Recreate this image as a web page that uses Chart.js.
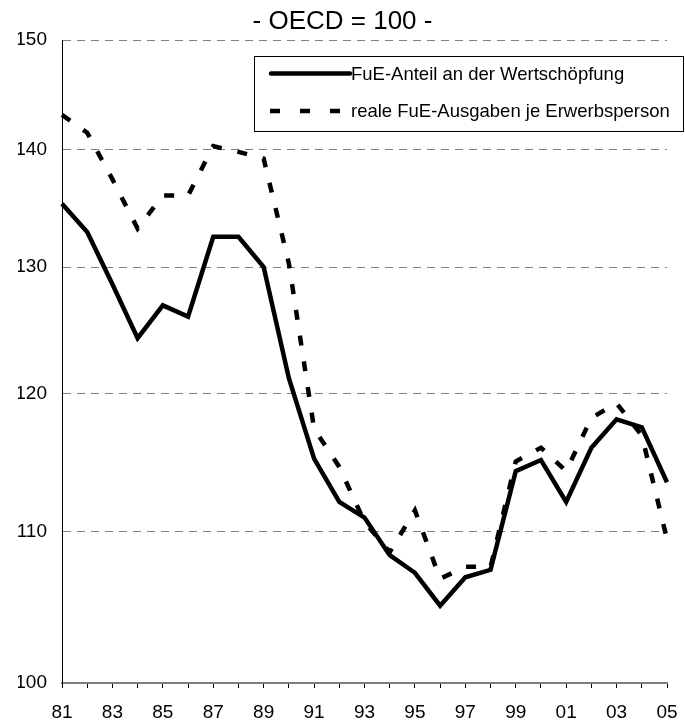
<!DOCTYPE html>
<html>
<head>
<meta charset="utf-8">
<script src="https://cdn.jsdelivr.net/npm/chart.js@4.4.1/dist/chart.umd.min.js"></script>
<style>
    body { margin: 0; background: #fff; }
    canvas { display: block; }
</style>
</head>
<body>
<canvas id="grafico-oecd" width="685" height="725"></canvas>
<script>
// Dados do gráfico
let anos = ["81", "82", "83", "84", "85", "86", "87", "88", "89", "90", "91", "92", "93",
    "94", "95", "96", "97", "98", "99", "00", "01", "02", "03", "04", "05"
];
let fueAnteil = [135.3, 132.9, 128.6, 124.3, 126.9, 126.0, 132.5, 132.5, 130.0, 121.2, 115.2, 112.1, 111.0,
    108.4, 107.2, 105.0, 106.9, 107.4, 114.3, 115.1, 112.1, 116.0, 118.1, 117.5, 113.5
];
let fueAusgaben = [143.1, 141.5, 137.4, 133.2, 136.0, 136.0, 140.3, 139.8, 139.2, 130.3, 117.4, 114.6, 110.7,
    108.6, 111.5, 106.8, 107.6, 107.6, 115.0, 116.0, 114.3, 118.2, 119.3, 116.9, 109.5
];
let ticksY = [100, 110, 120, 130, 140, 150];

Chart.defaults.font.family = '"Liberation Sans", Arial, sans-serif';
Chart.defaults.color = "#000";

// Legenda com caixa dentro da área do gráfico
const legendaBox = {
    id: "legendaBox",
    afterDatasetsDraw(chart) {
        const ctx = chart.ctx;
        ctx.save();
        ctx.fillStyle = "#fff";
        ctx.fillRect(254.5, 56.5, 429, 75);
        ctx.strokeStyle = "#000";
        ctx.lineWidth = 1;
        ctx.strokeRect(254.5, 56.5, 429, 75);

        const linhasY = [73.5, 111];
        chart.data.datasets.forEach((ds, i) => {
            const y = linhasY[i];
            ctx.beginPath();
            ctx.strokeStyle = ds.borderColor;
            ctx.lineWidth = ds.borderWidth;
            if (i === 0) {
                ctx.setLineDash([]);
                ctx.lineCap = "round";
                ctx.moveTo(271, y);
                ctx.lineTo(350, y);
            } else {
                ctx.setLineDash([10, 20]);
                ctx.lineCap = "butt";
                ctx.moveTo(270, y);
                ctx.lineTo(340, y);
            }
            ctx.stroke();
            ctx.setLineDash([]);
            ctx.fillStyle = "#000";
            ctx.font = '18.5px "Liberation Sans", Arial, sans-serif';
            ctx.textBaseline = "middle";
            ctx.fillText(ds.label, 351, y + 1);
        });
        ctx.restore();
    }
};

const dadosOecd = {
    labels: anos,
    datasets: [{
        label: "FuE-Anteil an der Wertschöpfung",
        data: fueAnteil,
        borderColor: "#000",
        borderWidth: 4.5,
        pointRadius: 0,
        tension: 0,
        fill: false
    },
    {
        label: "reale FuE-Ausgaben je Erwerbsperson",
        data: fueAusgaben,
        borderColor: "#000",
        borderWidth: 4.5,
        borderDash: [10, 16],
        pointRadius: 0,
        tension: 0,
        fill: false
    }]
};

const configOecd = {
    type: "line",
    data: dadosOecd,
    plugins: [legendaBox],
    options: {
        responsive: false,
        animation: false,
        layout: { padding: { left: 18, right: 18, top: 0, bottom: 0 } },
        plugins: {
            legend: { display: false },
            tooltip: { enabled: false },
            title: {
                display: true,
                text: "- OECD = 100 -",
                color: "#000",
                font: { size: 26, weight: "normal" },
                padding: { top: 6, bottom: 3 }
            }
        },
        scales: {
            x: {
                offset: false,
                grid: {
                    drawOnChartArea: false,
                    drawTicks: true,
                    tickLength: 5,
                    tickColor: "#000",
                    tickWidth: 1
                },
                border: { color: "#808080", width: 2 },
                ticks: {
                    autoSkip: false,
                    maxRotation: 0,
                    padding: 13,
                    font: { size: 19 },
                    callback: (v, i) => (i % 2 === 0 ? anos[i] : "")
                },
                afterFit: (scale) => {
                    scale.height = 42;
                    scale.paddingLeft = 0;
                    scale.paddingRight = 0;
                }
            },
            y: {
                type: "logarithmic",
                min: 100,
                max: 150,
                afterBuildTicks: (axis) => { axis.ticks = ticksY.map(v => ({ value: v })); },
                grid: {
                    color: "#808080",
                    lineWidth: 1,
                    drawTicks: false
                },
                border: { color: "#000", width: 1, dash: [8, 6] },
                ticks: {
                    padding: 15,
                    labelOffset: 0,
                    font: { size: 19 },
                    callback: (v) => v
                },
                afterFit: (scale) => { scale.width = 44; }
            }
        }
    }
};

let graficoOecd = new Chart(
    document.getElementById("grafico-oecd"),
    configOecd
);
</script>
</body>
</html>
